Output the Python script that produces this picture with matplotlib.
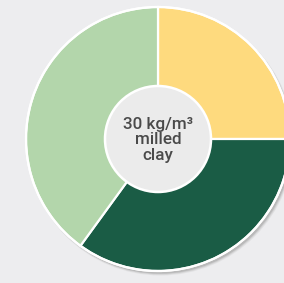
import matplotlib
matplotlib.use("Agg")
import matplotlib.pyplot as plt
from matplotlib.patches import Circle

categories = ["Component A", "Component B", "Component C"]
values = [25, 35, 40]
colors = ["#FEDA7E", "#1A5C45", "#B3D6AB"]
center_label = "30 kg/m³\nmilled\nclay"

W, H = 284, 283
fig = plt.figure(figsize=(W / 100, H / 100), dpi=100)
fig.patch.set_facecolor("#EDEDEF")
ax = fig.add_axes([0, 0, 1, 1])
ax.set_xlim(0, W)
ax.set_ylim(0, H)
ax.set_aspect("equal")
ax.axis("off")

cx, cy, R, r_in = 158, 144, 132, 53

# soft shadow
for i, a in enumerate([0.08, 0.12, 0.18]):
    ax.add_patch(Circle((cx + 2.5 - i * 0.3, cy - 3 + i * 0.3), R + 1.5 - i * 0.6,
                        facecolor="#555555", edgecolor="none", alpha=a, zorder=1))

ax.pie(values, colors=colors, startangle=90, counterclock=False,
       center=(cx, cy), radius=R, frame=True,
       wedgeprops=dict(edgecolor="white", linewidth=1.6, zorder=2))
ax.set_xlim(0, W)
ax.set_ylim(0, H)
ax.axis("off")
ax.add_patch(Circle((cx, cy), R, facecolor="none", edgecolor="white", linewidth=1.6, zorder=3))
ax.add_patch(Circle((cx, cy), r_in, facecolor="#EBEBEB", edgecolor="white", linewidth=1.8, zorder=4))
ax.text(cx, cy - 1, center_label, ha="center", va="center", fontsize=12.3,
        fontweight="medium", color="#4A4A4A", family=["Roboto", "DejaVu Sans"],
        linespacing=1.08, zorder=5)

fig.savefig("out.png", dpi=100, facecolor=fig.get_facecolor())
